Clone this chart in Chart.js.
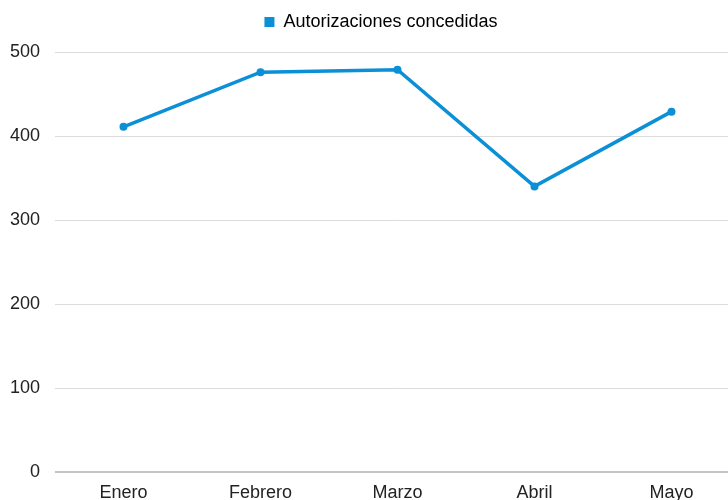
<!DOCTYPE html>
<html>
<head>
<meta charset="utf-8">
<script src="https://cdn.jsdelivr.net/npm/chart.js@4/dist/chart.umd.min.js"></script>
<style>
html,body{margin:0;padding:0;overflow:hidden;background:#fff;}
#wrap{width:762px;height:512px;position:relative;}
</style>
</head>
<body>
<div id="wrap"><canvas id="c" width="762" height="512"></canvas></div>
<script>
const categories = ["Enero", "Febrero", "Marzo", "Abril", "Mayo"];
const seriesName = "Autorizaciones concedidas";
const autorizaciones = [411, 476, 479, 340, 429];
const yTicks = [0, 100, 200, 300, 400, 500];

const blue = "#0b8fd6";
const FONT = { family: "Liberation Sans", size: 18 };

const legendPlugin = {
  id: "legendTweak",
  beforeInit(chart) {
    const lg = chart.legend;
    if (!lg) return;
    const orig = lg.fit;
    lg.fit = function () { orig.call(this); this.height = 52; };
  },
  afterLayout(chart) {
    const lg = chart.legend;
    if (lg) { lg.left = 22; }
  }
};

new Chart(document.getElementById("c"), {
  type: "line",
  data: {
    labels: categories,
    datasets: [{
      label: seriesName,
      data: autorizaciones,
      borderColor: blue,
      backgroundColor: blue,
      borderWidth: 3.5,
      pointRadius: 4,
      pointBackgroundColor: blue,
      pointBorderWidth: 0,
      tension: 0
    }]
  },
  plugins: [legendPlugin],
  options: {
    responsive: false,
    animation: false,
    layout: { padding: { left: 6, right: 22, top: 0, bottom: 0 } },
    plugins: {
      legend: {
        display: true,
        position: "top",
        labels: {
          font: FONT,
          color: "#222",
          boxWidth: 10,
          boxHeight: 10,
          padding: 13,
          generateLabels: () => [{
            text: seriesName, fillStyle: blue, strokeStyle: blue, lineWidth: 0,
            pointStyle: "rect", datasetIndex: 0, hidden: false
          }]
        }
      },
      tooltip: { enabled: false }
    },
    scales: {
      x: {
        offset: true,
        grid: { display: false, drawTicks: false },
        border: { display: false },
        ticks: { font: FONT, color: "#222", padding: 10 },
        afterFit(axis) { axis.height = 40; }
      },
      y: {
        min: 0, max: 500,
        afterBuildTicks: (axis) => { axis.ticks = yTicks.map(v => ({ value: v })); },
        grid: {
          color: (ctx) => ctx.tick && ctx.tick.value === 0 ? "#c4c4c4" : "#dcdcdc",
          lineWidth: (ctx) => ctx.tick && ctx.tick.value === 0 ? 2 : 1,
          drawTicks: false
        },
        border: { display: false },
        ticks: { font: FONT, color: "#222", padding: 15 },
        afterFit(axis) { axis.width = 49; }
      }
    }
  }
});
</script>
</body>
</html>
